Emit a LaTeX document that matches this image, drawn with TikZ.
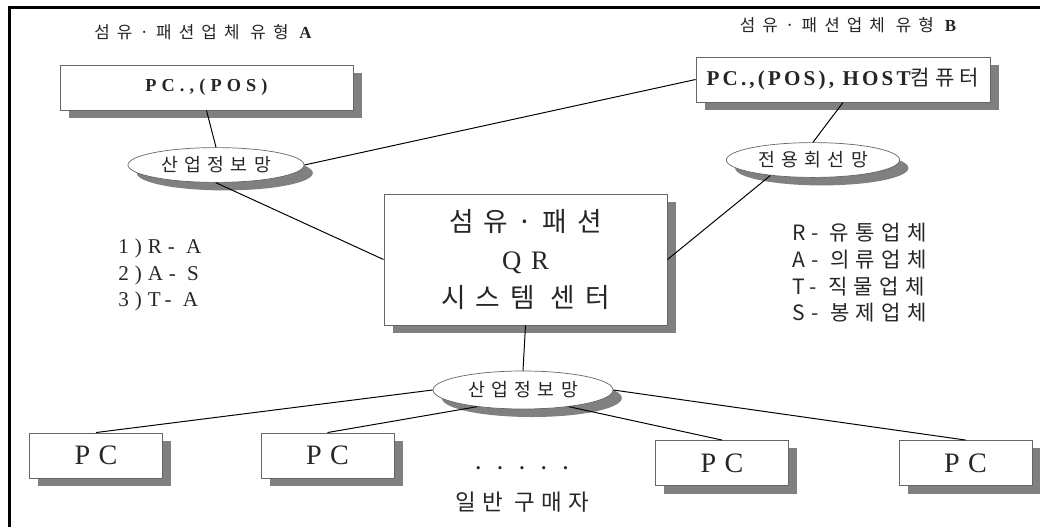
\documentclass[tikz,border=0pt]{standalone}
\usepackage{fontspec}
\setmainfont{Liberation Serif}
\newfontfamily\kr{Noto Sans CJK KR}
\newcommand\hf[1]{\kr\addfontfeature{LetterSpace=#1}}
\newcommand\lf[1]{\rmfamily\addfontfeature{LetterSpace=#1}}
\usetikzlibrary{shapes.geometric,shadows}
\begin{document}
\begin{tikzpicture}[x=.025cm,y=-.025cm,inner sep=0pt,text=black!85,line width=.7pt,
	box/.style={draw=black!60,line width=.5pt,fill=white,drop shadow={shadow xshift=.22cm,shadow yshift=-.2cm,fill=black!50,opacity=1}},
	net/.style={box,ellipse,minimum width=4.4cm,minimum height=.87cm,font=\fontsize{13}{15}\hf{35}},
	pc/.style={box,minimum width=3.33cm,minimum height=1.13cm,font=\fontsize{20}{24}\lf{30}}]
\useasboundingbox (0,0) rectangle (1040,527);
\draw[line width=2.1pt] (9.5,527) -- (9.5,7.5) -- (1040,7.5);
\path
(203,32) node (ta) {\fontsize{12}{14}\hf{42}섬유·패션업체 유형 \bfseries\lf{40}A}
(848,25) node (tb) {\fontsize{12}{14}\hf{42}섬유·패션업체 유형 \bfseries\lf{40}B}
(206.5,87.5) node[box,minimum width=7.33cm,minimum height=1.13cm] (a) {\bfseries\fontsize{13}{15}\lf{28}PC.,(POS)}
(843,79.5) node[box,minimum width=7.35cm,minimum height=1.13cm] (b) {\bfseries\fontsize{15}{17}\lf{15}PC.,(POS), HOST\mdseries\hf{25}컴퓨터}
(216,165) node[net] (ea) {산업정보망}
(813,160) node[net,minimum width=4.33cm] (eb) {전용회선망}
(525.5,259.5) node[box,minimum width=7.08cm,minimum height=3.28cm,align=center,font=\fontsize{19}{27}\selectfont] (c)
	{\hf{37}섬유·패션\\\lf{37}QR\\\hf{37}시스템 센터}
(523,390) node[net,minimum width=4.5cm,minimum height=.95cm] (ec) {산업정보망}
(118,275) node[anchor=west,align=left,font=\fontsize{15}{19}\lf{28}] (l1) {1)R- A\\2)A- S\\3)T- A}
(792,273) node[anchor=west,align=left,font=\fontsize{15}{19}\hf{30}] (l2) {R- 유통업체\\A- 의류업체\\T- 직물업체\\S- 봉제업체}
(522,468) node[font=\fontsize{14}{16}\bfseries\lf{0}] (d) {.\hspace{12pt}.\hspace{12pt}.\hspace{12pt}.\hspace{12pt}.}
(522,502) node[font=\fontsize{16}{18}\hf{28}] (g) {일반 구매자};
\foreach \x/\y[count=\k] in {96/455.5,327.5/455.5,722/463,965.5/463}
	\node[pc] (p\k) at (\x,\y) {PC};
\draw (a.south) -- (ea.north)
	(ea.east) -- (b.west)
	(ea.south) -- (c.west)
	(b.south) -- (eb.north)
	(eb.200) -- (c.east)
	(c.south) -- (ec.north);
\foreach \a[count=\k] in {west,200,-20,east}
	\draw (ec.\a) -- (p\k.north);
\end{tikzpicture}
\end{document}
